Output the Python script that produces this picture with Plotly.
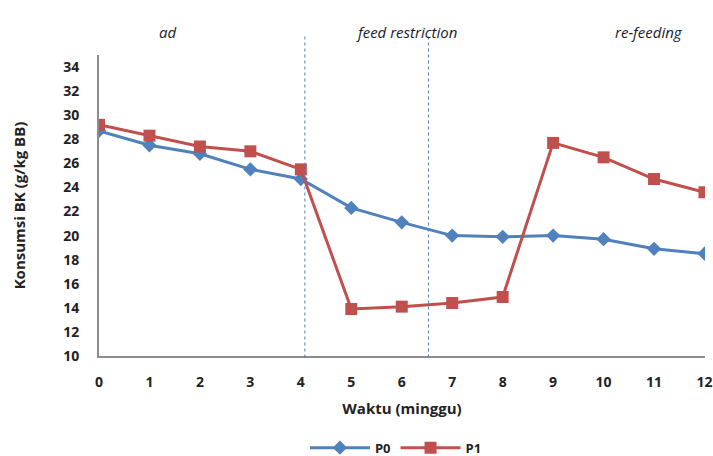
import plotly.graph_objects as go

weeks = list(range(13))
p0 = [28.7, 27.5, 26.8, 25.5, 24.7, 22.3, 21.1, 20.0, 19.9, 20.0, 19.7, 18.9, 18.5]
p1 = [29.2, 28.3, 27.4, 27.0, 25.5, 13.9, 14.1, 14.4, 14.9, 27.7, 26.5, 24.7, 23.6]
y_ticks = list(range(10, 35, 2))
phase_labels = ["ad", "feed restriction", "re-feeding"]
phase_x = [1.35, 6.1, 10.9]
phase_bounds = [4.08, 6.53]

font_family = "Open Sans, Liberation Sans, sans-serif"

fig = go.Figure()
fig.add_trace(go.Scatter(x=weeks, y=p0, name="<b>P0</b>", mode="lines+markers",
                         line=dict(color="#4F81BD", width=3),
                         marker=dict(symbol="diamond", size=11, color="#4F81BD")))
fig.add_trace(go.Scatter(x=weeks, y=p1, name="<b>P1</b>", mode="lines+markers",
                         line=dict(color="#C0504D", width=3),
                         marker=dict(symbol="square", size=12, color="#C0504D")))

for xb in phase_bounds:
    fig.add_shape(type="line", x0=xb, x1=xb, xref="x", yref="paper", y0=-0.005, y1=1.07,
                  line=dict(color="#4F81BD", width=1, dash="dot"))

for lbl, xp in zip(phase_labels, phase_x):
    fig.add_annotation(x=xp, y=1.075, xref="x", yref="paper", text="<i>" + lbl + "</i>", showarrow=False,
                       font=dict(family=font_family, size=15, color="#1a1a2e"),
                       xanchor="center", yanchor="middle")

fig.update_layout(
    width=713, height=456,
    margin=dict(l=99, r=8, t=55, b=100, autoexpand=False),
    paper_bgcolor="white", plot_bgcolor="white",
    font=dict(family=font_family, color="#222"),
    legend=dict(orientation="h", x=0.49, xanchor="center", y=-0.255, yanchor="top",
                font=dict(size=13, family=font_family), itemwidth=60),
    showlegend=True,
)
fig.update_xaxes(range=[0, 12.01], tickmode="array", tickvals=weeks, ticktext=[str(w) for w in weeks],
                 showgrid=False, zeroline=False, showline=True, linecolor="#8c8c8c", linewidth=2,
                 ticks="", automargin=False, ticklabelstandoff=12,
                 tickfont=dict(size=14, family=font_family, weight="bold"),
                 title=dict(text="<b>Waktu (minggu)</b>", font=dict(size=15), standoff=14))
fig.update_yaxes(range=[10, 35], tickmode="array", tickvals=y_ticks, ticktext=[str(t) for t in y_ticks],
                 showgrid=False, zeroline=False, showline=True, linecolor="#8c8c8c", linewidth=2,
                 ticks="", automargin=False, ticklabelstandoff=15,
                 tickfont=dict(size=14, family=font_family, weight="bold"),
                 title=dict(text="<b>Konsumsi BK (g/kg BB)</b>", font=dict(size=15), standoff=34))

fig.write_html("out.html", config={"displayModeBar": False},
               post_script="document.body.style.margin='0';document.body.style.overflow='hidden';")
